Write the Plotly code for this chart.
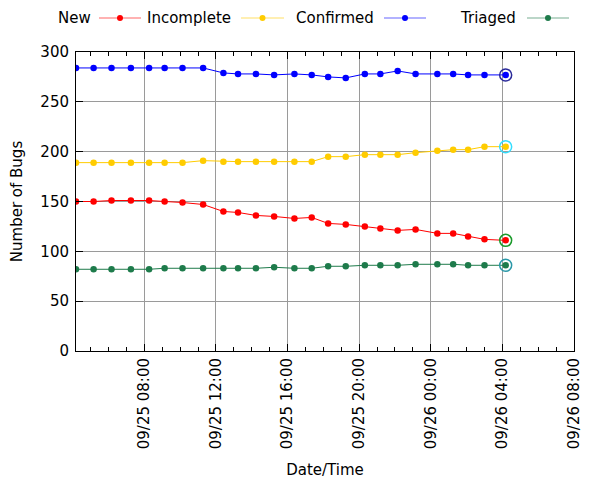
import plotly.graph_objects as go

times = [
    "2015-09-25 04:11", "2015-09-25 05:10", "2015-09-25 06:10", "2015-09-25 07:15",
    "2015-09-25 08:16", "2015-09-25 09:08", "2015-09-25 10:08", "2015-09-25 11:17",
    "2015-09-25 12:25", "2015-09-25 13:14", "2015-09-25 14:14", "2015-09-25 15:15",
    "2015-09-25 16:23", "2015-09-25 17:21", "2015-09-25 18:16", "2015-09-25 19:15",
    "2015-09-25 20:19", "2015-09-25 21:11", "2015-09-25 22:09", "2015-09-25 23:09",
    "2015-09-26 00:22", "2015-09-26 01:15", "2015-09-26 02:05", "2015-09-26 03:00",
    "2015-09-26 04:11",
]

new = [150, 150, 151, 151, 151, 150, 149, 147, 140, 139, 136, 135, 133, 134,
       128, 127, 125, 123, 121, 122, 118, 118, 115, 112, 111]
incomplete = [189, 189, 189, 189, 189, 189, 189, 191, 190, 190, 190, 190, 190, 190,
              195, 195, 197, 197, 197, 199, 201, 202, 202, 205, 205]
confirmed = [284, 284, 284, 284, 284, 284, 284, 284, 279, 278, 278, 277, 278, 277,
             275, 274, 278, 278, 281, 278, 278, 278, 277, 277, 277]
triaged = [82, 82, 82, 82, 82, 83, 83, 83, 83, 83, 83, 84, 83, 83,
           85, 85, 86, 86, 86, 87, 87, 87, 86, 86, 86]

series_names = ["New", "Incomplete", "Confirmed", "Triaged"]
series_values = [new, incomplete, confirmed, triaged]
colors = ["#ff0000", "#ffcc00", "#0000ff", "#1e7b4b"]
ring_colors = ["#1a9a2a", "#33ddff", "#2a2a9a", "#2a98a8"]

x_range = ["2015-09-25 04:11", "2015-09-26 08:00"]
y_ticks = [0, 50, 100, 150, 200, 250, 300]

FONT = "DejaVu Sans"
FS = 15

fig = go.Figure()
for name, vals, col, rc in zip(series_names, series_values, colors, ring_colors):
    fig.add_trace(go.Scatter(
        x=times, y=vals, name=name, mode="lines+markers",
        line=dict(color=col, width=1),
        marker=dict(color=col, size=6.5),
        showlegend=False,
    ))
    fig.add_trace(go.Scatter(
        x=times[-1:], y=vals[-1:], mode="markers",
        marker=dict(symbol="circle-open", size=12, color=rc, line=dict(width=1.5, color=rc)),
        showlegend=False, hoverinfo="skip",
    ))

# page is drawn with an 8px body offset; plot area targets x 76..574, y 52..351 on screen
OFF = 8
W, H = 498.0, 299.0
PL, PT = 76 - OFF, 52 - OFF

legend_text_right = [93, 233, 376, 518]
legend_line = [(99, 141), (241, 284), (384, 426), (527, 569)]
leg_y = 1 + (52 - 18) / H
shapes = []
annotations = []
for name, col, tr, (l0, l1) in zip(series_names, colors, legend_text_right, legend_line):
    annotations.append(dict(
        text=name, xref="paper", yref="paper", x=(tr - 76) / W, y=leg_y,
        xanchor="right", yanchor="middle", showarrow=False,
        font=dict(family=FONT, size=FS, color="#000000"),
    ))
    shapes.append(dict(
        type="line", xref="paper", yref="paper",
        x0=(l0 - 76) / W, x1=(l1 - 76) / W, y0=leg_y, y1=leg_y,
        line=dict(color=col, width=1.2), opacity=0.6,
    ))
    xm = ((l0 + l1) / 2 - 76) / W
    shapes.append(dict(
        type="circle", xref="paper", yref="paper",
        xsizemode="pixel", ysizemode="pixel", xanchor=xm, yanchor=leg_y,
        x0=-3, x1=3, y0=-3, y1=3,
        fillcolor=col, line=dict(color=col, width=0),
    ))

fig.update_layout(
    width=600, height=480,
    margin=dict(l=PL, r=600 - PL - int(W), t=PT, b=480 - PT - int(H), autoexpand=False),
    paper_bgcolor="white", plot_bgcolor="white",
    font=dict(family=FONT, size=FS, color="#000000"),
    shapes=shapes, annotations=annotations,
    showlegend=False,
)
fig.update_xaxes(
    type="date", range=x_range,
    dtick=4 * 3600 * 1000, tick0="2015-09-25 00:00",
    tickformat="%m/%d %H:%M", tickangle=-90,
    showgrid=True, gridcolor="#9a9a9a", gridwidth=1,
    showline=True, linecolor="#000000", linewidth=1, mirror="ticks",
    ticks="inside", ticklen=7, tickcolor="#000000",
    minor=dict(dtick=3600 * 1000, ticks="inside", ticklen=4, tickcolor="#000000", showgrid=False),
    title=dict(text="Date/Time", font=dict(family=FONT, size=FS), standoff=16),
    zeroline=False, automargin=False,
)
fig.update_yaxes(
    range=[0, 300], tickvals=y_ticks,
    showgrid=True, gridcolor="#9a9a9a", gridwidth=1,
    showline=True, linecolor="#000000", linewidth=1, mirror="ticks",
    ticks="inside", ticklen=7, tickcolor="#000000", ticklabelstandoff=3,
    title=dict(text="Number of Bugs", font=dict(family=FONT, size=FS), standoff=16),
    zeroline=False, automargin=False,
)

fig.write_html("out.html")
